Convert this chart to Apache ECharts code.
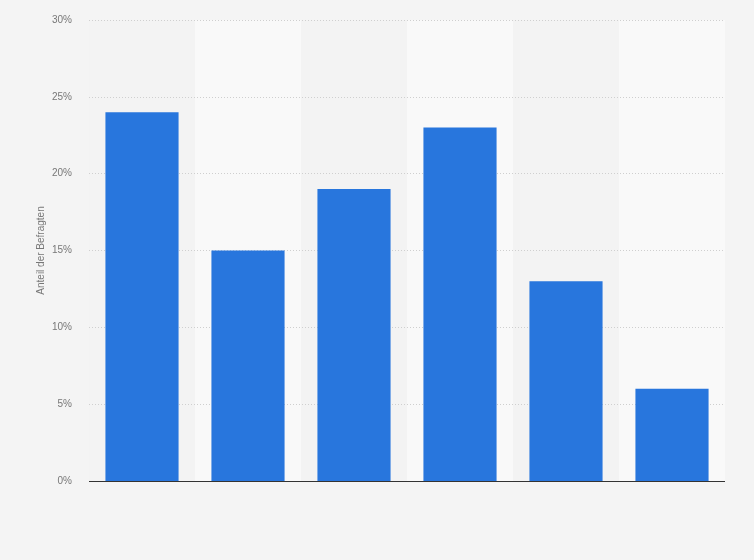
<!DOCTYPE html>
<html>
<head>
<meta charset="utf-8">
<script src="https://cdn.jsdelivr.net/npm/echarts@6/dist/echarts.min.js"></script>
<style>
    html, body { margin: 0; padding: 0; background: #f4f4f4; }
    #chart { width: 754px; height: 560px; }
</style>
</head>
<body>
<div id="chart"></div>
<script>
// Chart data
// ------------------------------

// Categories (no labels shown in the reference)
var categories = ['1', '2', '3', '4', '5', '6'];

// Share of respondents, in percent
var shareValues = [24, 15, 19, 23, 13, 6];

// Vertical axis ticks
var yMin = 0;
var yMax = 30;
var yStep = 5;


// Initialize chart
// ------------------------------

var chart_element = document.getElementById('chart');
var chart = echarts.init(chart_element);

chart.setOption({

    backgroundColor: '#f4f4f4',

    textStyle: {
        fontFamily: 'Arial, "Liberation Sans", sans-serif'
    },

    animation: false,

    // Setup grid
    grid: {
        left: 89,
        right: 29,
        top: 20,
        bottom: 79,
        containLabel: false
    },

    // Horizontal axis (column bands)
    xAxis: {
        type: 'category',
        data: categories,
        z: 0,
        axisTick: { show: false },
        axisLabel: { show: false },
        axisLine: { show: false },
        splitArea: {
            show: true,
            areaStyle: {
                color: ['#f3f3f3', '#f9f9f9']
            }
        }
    },

    // Vertical axis
    yAxis: {
        type: 'value',
        min: yMin,
        max: yMax,
        interval: yStep,
        z: 1,
        name: 'Anteil der Befragten',
        nameLocation: 'middle',
        nameGap: 43,
        nameMoveOverlap: false,
        nameTextStyle: {
            color: '#777',
            fontSize: 10
        },
        axisLine: { show: false },
        axisTick: { show: false },
        axisLabel: {
            formatter: '{value}%',
            color: '#777',
            fontSize: 10,
            margin: 17
        },
        splitLine: {
            lineStyle: {
                color: '#cfcfcf',
                type: [1, 2]
            }
        }
    },

    // Add series
    series: [{
        type: 'bar',
        data: shareValues,
        barWidth: '69%',
        z: 2,
        itemStyle: {
            color: '#2876dd'
        },
        markLine: {
            silent: true,
            symbol: 'none',
            label: { show: false },
            lineStyle: {
                color: '#333',
                type: 'solid',
                width: 1
            },
            data: [{ yAxis: yMin }]
        }
    }]
});
</script>
</body>
</html>
